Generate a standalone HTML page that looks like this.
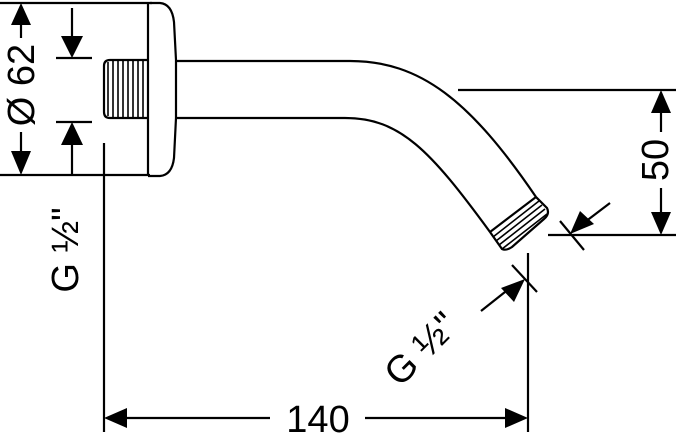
<!DOCTYPE html>
<html><head><meta charset="utf-8"><style>
html,body{margin:0;padding:0;background:#fff;}
svg{display:block;}
text{font-family:"Liberation Sans",sans-serif;fill:#000;}
</style></head><body>
<svg width="678" height="442" viewBox="0 0 678 442" xmlns="http://www.w3.org/2000/svg">
<g stroke="#000" stroke-width="2.2" fill="none">
<line x1="0" y1="3" x2="152" y2="3"/>
<line x1="0" y1="175" x2="150" y2="175"/>
<line x1="21" y1="20" x2="21" y2="38"/>
<line x1="21" y1="132" x2="21" y2="155"/>
<line x1="72" y1="8" x2="72" y2="40"/>
<line x1="56" y1="58" x2="92" y2="58"/>
<line x1="56" y1="122" x2="92" y2="122"/>
<line x1="72" y1="140" x2="72" y2="175"/>
<path d="M148 60 H110 Q104 60 104 66 V112 Q104 118 110 118 H148"/>
<line x1="104" y1="143" x2="104" y2="432"/>
<line x1="148" y1="3" x2="148" y2="176"/>
<path d="M150 3 H160 Q172 4 174 22 L176 60 V118 L174 158 Q172 175 160 176 H148"/>
<path d="M176 61 H350 C420 61 470 100 536 197 L547 208 Q550 214 544 219 L512 247 Q506 251 502 249 L490 232 C430 150 400 118 345 118 H176"/>
<line x1="490" y1="232" x2="536" y2="197"/>
<line x1="458" y1="90" x2="676" y2="90"/>
<line x1="548" y1="235" x2="676" y2="235"/>
<line x1="661" y1="110" x2="661" y2="132"/>
<line x1="661" y1="188" x2="661" y2="215"/>
<line x1="560" y1="221" x2="584" y2="250"/>
<line x1="610" y1="203" x2="585" y2="222"/>
<line x1="528" y1="253" x2="528" y2="432"/>
<line x1="512" y1="265" x2="537" y2="292"/>
<line x1="481" y1="311" x2="505" y2="292"/>
<line x1="125" y1="418" x2="270" y2="418"/>
<line x1="365" y1="418" x2="508" y2="418"/>
</g>
<g stroke="#000" stroke-width="1.6">
<line x1="108" y1="62" x2="108" y2="116"/>
<line x1="113" y1="61" x2="113" y2="117"/>
<line x1="118" y1="61" x2="118" y2="117"/>
<line x1="123" y1="61" x2="123" y2="117"/>
<line x1="128" y1="61" x2="128" y2="117"/>
<line x1="133" y1="61" x2="133" y2="117"/>
<line x1="138" y1="61" x2="138" y2="117"/>
<line x1="143" y1="61" x2="143" y2="117"/>
<line x1="493" y1="237" x2="539" y2="201"/>
<line x1="496" y1="241" x2="542" y2="205"/>
<line x1="499" y1="245" x2="545" y2="209"/>
<line x1="502" y1="249" x2="547" y2="214"/>
</g>
<g fill="#000">
<polygon points="21,3 11,25 31,25"/>
<polygon points="21,175 11,151 31,151"/>
<polygon points="72,58 61,36 83,36"/>
<polygon points="72,122 61,145 83,145"/>
<polygon points="661,90 651,113 671,113"/>
<polygon points="661,235 651,212 671,212"/>
<polygon points="570,234 580,211 594,224"/>
<polygon points="525,279 501,288 514,302"/>
<polygon points="104,418 127,408 127,428"/>
<polygon points="528,418 505,408 505,428"/>
</g>
<text x="0" y="0" font-size="38" text-anchor="middle" transform="translate(34,85) rotate(-90)">Ø 62</text>
<text x="0" y="0" font-size="38" text-anchor="middle" transform="translate(78,250) rotate(-90)">G ½"</text>
<text x="0" y="0" font-size="38" text-anchor="middle" transform="translate(668,160) rotate(-90)">50</text>
<text x="0" y="0" font-size="38" text-anchor="middle" transform="translate(430,358) rotate(-45)">G ½"</text>
<text x="318" y="432" font-size="38" text-anchor="middle">140</text>
</svg>
</body></html>
